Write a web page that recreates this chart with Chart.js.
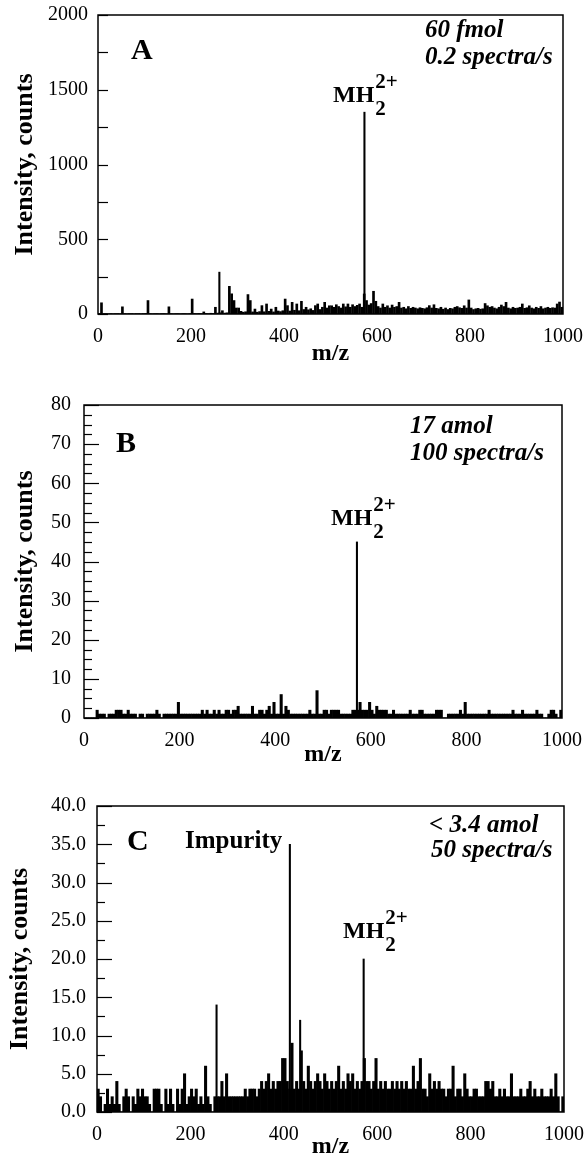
<!DOCTYPE html>
<html>
<head>
<meta charset="utf-8">
<script src="https://cdn.jsdelivr.net/npm/chart.js@4.4.1/dist/chart.umd.min.js"></script>
<style>
  html, body { margin: 0; padding: 0; background: #fff; overflow: hidden; }
  .panel { position: absolute; left: 0; width: 585px; height: 400px; }
</style>
</head>
<body>
<div class="panel" style="top:0"><canvas id="chartA" width="585" height="400"></canvas></div>
<div class="panel" style="top:385px"><canvas id="chartB" width="585" height="400"></canvas></div>
<div class="panel" style="top:770px"><canvas id="chartC" width="585" height="400"></canvas></div>
<script>
// m/z channels (bin centres, 5 units wide) shared by the three spectra
const mzBins = Array.from({ length: 200 }, (_, i) => i * 5 + 2.5);
const xTicks = [0, 200, 400, 600, 800, 1000];

// A : 60 fmol, 0.2 spectra/s
const noiseA = [
  4, 75, 3, 3, 2, 3, 2, 3, 3, 2, 48, 3, 2, 3, 3, 2, 3, 3, 2, 3,
  4, 90, 3, 2, 3, 3, 2, 3, 3, 2, 48, 3, 2, 3, 3, 2, 3, 3, 2, 3,
  100, 4, 3, 4, 3, 14, 4, 3, 5, 4, 45, 6, 8, 22, 6, 8, 185, 135, 90, 40,
  40, 18, 12, 15, 130, 90, 14, 33, 12, 16, 56, 15, 67, 18, 33, 14, 45, 20, 16, 22,
  100, 56, 20, 78, 25, 67, 22, 85, 30, 45, 28, 35, 24, 56, 67, 30, 45, 78, 40, 55,
  55, 45, 62, 50, 40, 67, 48, 67, 45, 62, 50, 58, 67, 45, 134, 90, 60, 70, 152, 85,
  50, 40, 67, 45, 55, 40, 60, 45, 50, 78, 40, 45, 35, 50, 38, 45, 40, 35, 42, 38,
  35, 42, 56, 40, 62, 38, 35, 45, 32, 40, 30, 38, 35, 45, 50, 42, 38, 55, 40, 94,
  40, 30, 35, 38, 32, 35, 70, 55, 45, 50, 40, 35, 45, 60, 50, 78, 40, 35, 45, 38,
  40, 45, 67, 38, 42, 55, 40, 35, 45, 38, 50, 35, 40, 45, 38, 42, 40, 67, 80, 45,
];
const peakMzA = [261, 573];
const peakA = [280, 1350];

// B : 17 amol, 100 spectra/s
const noiseB = [
  0, 0, 0, 0, 0, 2, 1, 1, 1, 0, 1, 1, 1, 2, 2, 2, 1, 1, 2, 1,
  1, 1, 0, 1, 1, 0, 1, 1, 1, 1, 2, 1, 0, 1, 1, 1, 1, 1, 1, 4,
  1, 1, 1, 1, 1, 1, 1, 1, 1, 2, 1, 2, 1, 1, 2, 1, 2, 1, 1, 2,
  2, 1, 2, 2, 3, 1, 1, 1, 1, 1, 3, 1, 1, 2, 2, 1, 2, 3, 1, 4,
  1, 1, 6, 1, 3, 2, 1, 1, 1, 1, 1, 1, 1, 1, 2, 1, 1, 7, 1, 1,
  2, 2, 1, 2, 2, 2, 2, 1, 1, 1, 1, 1, 2, 2, 2, 4, 2, 2, 2, 4,
  2, 1, 3, 2, 2, 2, 2, 1, 1, 2, 1, 1, 1, 1, 1, 1, 2, 1, 1, 1,
  2, 2, 1, 1, 1, 1, 1, 2, 2, 2, 0, 0, 1, 1, 1, 1, 1, 2, 1, 4,
  1, 1, 1, 1, 1, 1, 1, 1, 1, 2, 1, 1, 1, 1, 1, 1, 1, 1, 1, 2,
  1, 1, 1, 2, 1, 1, 1, 1, 1, 2, 1, 1, 0, 0, 1, 2, 2, 1, 0, 2,
];
const peakMzB = [571];
const peakB = [45];

// C : < 3.4 amol, 50 spectra/s
const noiseC = [
  3, 2, 0, 1, 3, 1, 2, 1, 4, 1, 0, 2, 3, 2, 0, 2, 1, 3, 2, 3,
  2, 2, 1, 0, 3, 3, 3, 1, 0, 3, 1, 3, 1, 0, 3, 1, 3, 5, 1, 2,
  3, 2, 3, 1, 2, 1, 6, 2, 1, 0, 2, 2, 2, 4, 2, 5, 2, 2, 2, 2,
  2, 2, 2, 3, 2, 3, 3, 3, 2, 3, 4, 3, 4, 5, 3, 4, 3, 4, 4, 7,
  7, 4, 3, 9, 3, 4, 3, 8, 4, 3, 6, 4, 3, 4, 5, 4, 3, 5, 4, 3,
  4, 3, 4, 6, 3, 4, 3, 5, 4, 5, 3, 4, 3, 4, 7, 4, 4, 3, 4, 7,
  3, 4, 3, 4, 3, 3, 4, 3, 4, 3, 4, 3, 4, 3, 3, 6, 3, 4, 7, 3,
  3, 2, 5, 3, 4, 3, 4, 3, 3, 2, 3, 3, 6, 2, 3, 3, 2, 5, 3, 2,
  2, 3, 3, 2, 2, 2, 4, 4, 3, 4, 2, 2, 3, 2, 3, 2, 2, 5, 2, 2,
  2, 3, 2, 2, 3, 4, 2, 3, 2, 2, 3, 2, 2, 2, 3, 2, 5, 2, 0, 2,
];
const peakMzC = [256, 413, 435, 571];
const peakC = [14, 35, 12, 20];

const SERIF = "'Liberation Serif', 'Times New Roman', serif";
const NOTE = "italic bold 25px " + SERIF;

const panels = [
  {
    id: "chartA", noise: noiseA, peakMz: peakMzA, peaks: peakA, noiseWidth: 2.0,
    yMax: 2000, yStep: 500, yMinor: 250, majorLen: 10, minorLen: 10, decimals: 0,
    left: 98, right: 563, top: 15, bottom: 314, tickPad: 10, yTitlePad: 10, xTitlePad: 34,
    labels: [
      { text: "A", x: 131, y: 59, font: "bold 30px " + SERIF },
      { text: "60 fmol", x: 425, y: 37, font: NOTE },
      { text: "0.2 spectra/s", x: 425, y: 64, font: NOTE },
      { mh: true, x: 333, y: 102 },
    ],
  },
  {
    id: "chartB", noise: noiseB, peakMz: peakMzB, peaks: peakB, noiseWidth: 2.4,
    yMax: 80, yStep: 10, yMinor: 2.5, majorLen: 15, minorLen: 8, decimals: 0,
    left: 84, right: 562, top: 20, bottom: 333, tickPad: 13, yTitlePad: 10, xTitlePad: 18,
    labels: [
      { text: "B", x: 116, y: 67, font: "bold 30px " + SERIF },
      { text: "17 amol", x: 410, y: 48, font: NOTE },
      { text: "100 spectra/s", x: 410, y: 75, font: NOTE },
      { mh: true, x: 331, y: 140 },
    ],
  },
  {
    id: "chartC", noise: noiseC, peakMz: peakMzC, peaks: peakC, noiseWidth: 2.4,
    yMax: 40, yStep: 5, yMinor: 2.5, majorLen: 15, minorLen: 8, decimals: 1,
    left: 97, right: 564, top: 36, bottom: 342, tickPad: 11, yTitlePad: 5, xTitlePad: 11,
    labels: [
      { text: "C", x: 127, y: 80, font: "bold 30px " + SERIF },
      { text: "Impurity", x: 185, y: 78, font: "bold 25px " + SERIF },
      { text: "< 3.4 amol", x: 429, y: 62, font: NOTE },
      { text: "50 spectra/s", x: 431, y: 87, font: NOTE },
      { mh: true, x: 343, y: 168 },
    ],
  },
];

// frame, inward y ticks and the text annotations
const framePlugin = {
  id: "frame",
  afterDatasetsDraw(chart, args, opts) {
    const p = opts.panel;
    const ctx = chart.ctx;
    const a = chart.chartArea;
    const y = chart.scales.y;
    ctx.save();
    ctx.strokeStyle = "#000";
    ctx.lineWidth = 1.5;
    ctx.strokeRect(a.left, a.top, a.right - a.left, a.bottom - a.top);
    ctx.lineWidth = 1.2;
    for (let v = 0; v <= p.yMax; v += p.yMinor) {
      const py = Math.round(y.getPixelForValue(v)) + 0.5;
      const len = v % p.yStep === 0 ? p.majorLen : p.minorLen;
      ctx.beginPath();
      ctx.moveTo(a.left, py);
      ctx.lineTo(a.left + len, py);
      ctx.stroke();
    }
    ctx.fillStyle = "#000";
    ctx.textBaseline = "alphabetic";
    ctx.textAlign = "left";
    p.labels.forEach((l) => {
      if (l.mh) {
        ctx.font = "bold 24px " + SERIF;
        ctx.fillText("MH", l.x, l.y);
        const w = ctx.measureText("MH").width + 1;
        ctx.font = "bold 21px " + SERIF;
        ctx.fillText("2", l.x + w, l.y + 13);
        ctx.fillText("2+", l.x + w, l.y - 14);
      } else {
        ctx.font = l.font;
        ctx.fillText(l.text, l.x, l.y);
      }
    });
    ctx.restore();
  },
};

panels.forEach((p) => {
  const ctx = document.getElementById(p.id).getContext("2d");
  new Chart(ctx, {
    type: "bar",
    data: {
      datasets: [
        {
          data: p.noise.map((v, i) => ({ x: mzBins[i], y: v })),
          backgroundColor: "#000",
          borderWidth: 0,
          barThickness: p.noiseWidth,
          grouped: false,
        },
        {
          data: p.peakMz.map((m, i) => ({ x: m, y: p.peaks[i] })),
          backgroundColor: "#000",
          borderWidth: 0,
          barThickness: 1.4,
          grouped: false,
        },
      ],
    },
    options: {
      responsive: false,
      animation: false,
      layout: { padding: { left: 0, right: 585 - p.right, top: p.top, bottom: 0 } },
      plugins: {
        legend: { display: false },
        tooltip: { enabled: false },
        frame: { panel: p },
      },
      scales: {
        x: {
          type: "linear",
          offset: false,
          min: 0,
          max: 1000,
          afterBuildTicks: (s) => { s.ticks = xTicks.map((v) => ({ value: v })); },
          afterFit: (s) => { s.height = 400 - p.bottom; s.paddingLeft = 0; s.paddingRight = 0; },
          grid: { display: false, drawTicks: false },
          border: { display: false },
          ticks: {
            color: "#000",
            padding: 11,
            maxRotation: 0,
            autoSkip: false,
            font: { family: SERIF, size: 20 },
            callback: (v) => String(v),
          },
          title: {
            display: true,
            text: "m/z",
            color: "#000",
            font: { family: SERIF, size: 24, weight: "bold", lineHeight: 1 },
            padding: { top: 0, bottom: p.xTitlePad },
          },
        },
        y: {
          min: 0,
          max: p.yMax,
          afterFit: (s) => { s.width = p.left; s.paddingTop = 0; s.paddingBottom = 0; },
          grid: { display: false, drawTicks: false },
          border: { display: false },
          ticks: {
            stepSize: p.yStep,
            autoSkip: false,
            color: "#000",
            padding: p.tickPad,
            font: { family: SERIF, size: 20 },
            callback: (v) => v.toFixed(p.decimals),
          },
          title: {
            display: true,
            text: "Intensity, counts",
            color: "#000",
            font: { family: SERIF, size: 26, weight: "bold", lineHeight: 1.2 },
            padding: { top: p.yTitlePad, bottom: 0 },
          },
        },
      },
    },
    plugins: [framePlugin],
  });
});
</script>
</body>
</html>
